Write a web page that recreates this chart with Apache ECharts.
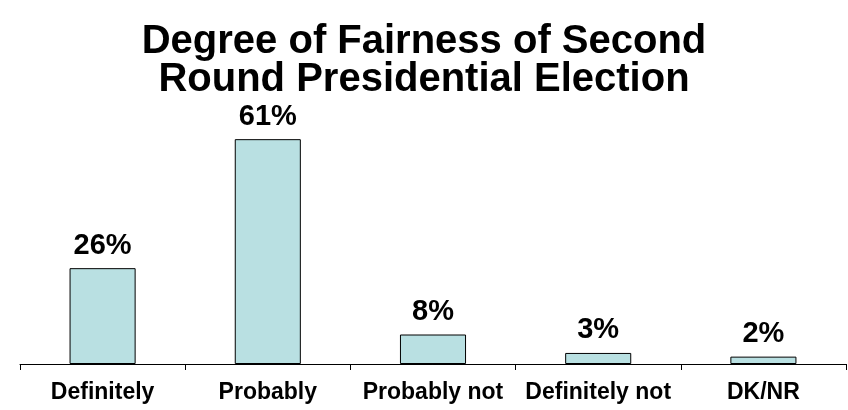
<!DOCTYPE html>
<html>
<head>
<meta charset="utf-8">
<script src="https://cdn.jsdelivr.net/npm/echarts@6/dist/echarts.min.js"></script>
<style>
  html, body { margin: 0; padding: 0; background: #fff; }
  #chart { width: 848px; height: 410px; }
</style>
</head>
<body>
<div id="chart"></div>
<script>
// Survey responses: perceived fairness of the second-round vote
const categories = ['Definitely', 'Probably', 'Probably not', 'Definitely not', 'DK/NR'];
const shares = [26, 61, 8, 3, 2];
const titleLines = ['Degree of Fairness of Second', 'Round Presidential Election'];

const FONT = 'Liberation Sans, Arial, sans-serif';

const chart = echarts.init(document.getElementById('chart'));
chart.setOption({
  animation: false,
  backgroundColor: '#ffffff',
  title: {
    text: titleLines.join('\n'),
    left: 'center',
    top: 18,
    textStyle: {
      fontFamily: FONT,
      fontSize: 40,
      fontWeight: 'bold',
      color: '#000',
      lineHeight: 38
    }
  },
  grid: { left: 20, right: 2, top: 106, bottom: 46 },
  xAxis: {
    type: 'category',
    data: categories,
    boundaryGap: true,
    axisLine: { lineStyle: { color: '#000', width: 1 } },
    axisTick: { show: true, length: 6, lineStyle: { color: '#000' } },
    axisLabel: {
      fontFamily: FONT,
      fontSize: 23,
      fontWeight: 'bold',
      color: '#000',
      margin: 17,
      interval: 0
    }
  },
  yAxis: {
    type: 'value',
    min: 0,
    max: 70,
    show: false,
    splitLine: { show: false }
  },
  series: [{
    type: 'bar',
    data: shares,
    barWidth: '40%',
    itemStyle: { color: '#B9E0E2', borderColor: '#000', borderWidth: 1 },
    label: {
      show: true,
      position: 'top',
      distance: 8,
      formatter: p => p.value + '%',
      fontFamily: FONT,
      fontSize: 29,
      fontWeight: 'bold',
      color: '#000'
    }
  }]
});
</script>
</body>
</html>
